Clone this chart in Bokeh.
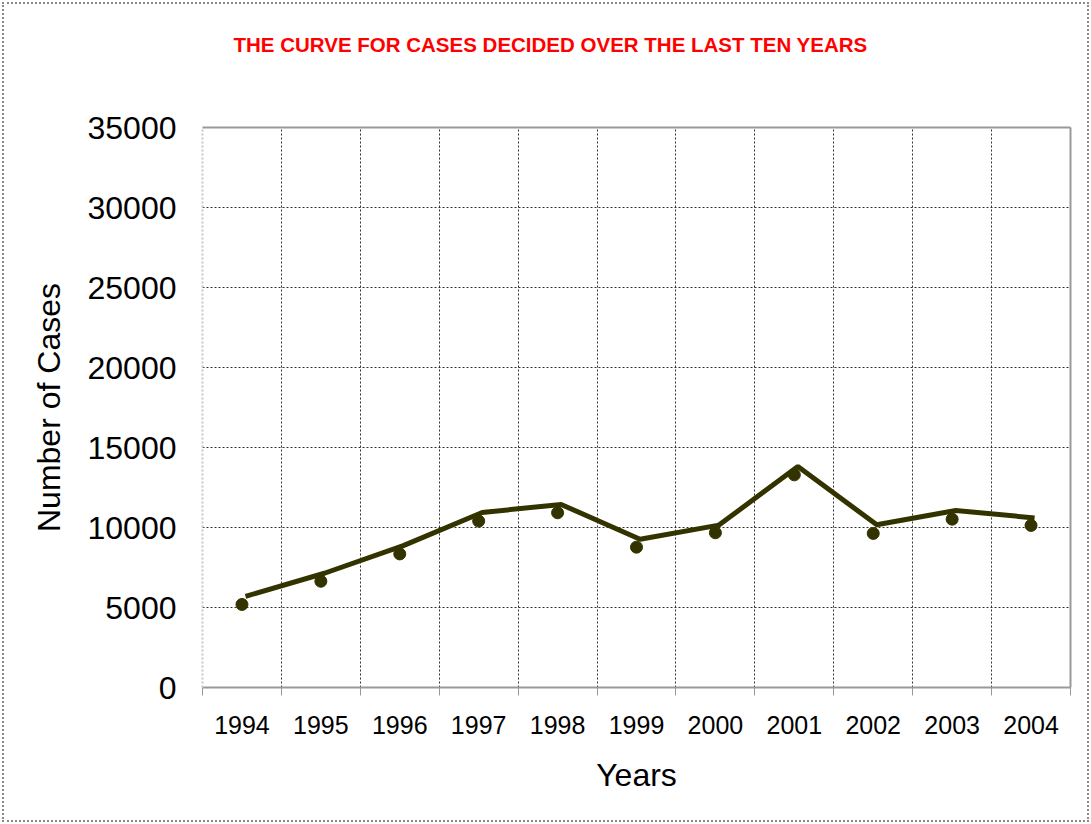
from bokeh.plotting import figure
from bokeh.models import ColumnDataSource, FixedTicker, Range1d, LinearAxis
from bokeh.transform import dodge
from bokeh.embed import file_html
from bokeh.resources import INLINE

# ---- data ----
years = [1994, 1995, 1996, 1997, 1998, 1999, 2000, 2001, 2002, 2003, 2004]
cases_line = [5700, 7140, 8870, 10940, 11440, 9270, 10150, 13810, 10170, 11060, 10600]
cases_points = [5190, 6640, 8350, 10400, 10920, 8770, 9670, 13290, 9630, 10520, 10130]
y_ticks = [0, 5000, 10000, 15000, 20000, 25000, 30000, 35000]

title_text = "THE CURVE FOR CASES DECIDED OVER THE LAST TEN YEARS"
x_title = "Years"
y_title = "Number of Cases"

FONT = "Liberation Sans"
INK = "#333300"
GRID = "#303030"
BORDER = "#999999"

source = ColumnDataSource(dict(year=years, line=cases_line, points=cases_points))

boundaries = [y - 0.5 for y in years] + [years[-1] + 0.5]
inner_boundaries = boundaries[1:-1]

p = figure(
    width=1091, height=824,
    output_backend="svg", toolbar_location=None,
    x_range=Range1d(years[0] - 0.5, years[-1] + 0.5),
    y_range=Range1d(y_ticks[0], y_ticks[-1]),
    min_border_left=202, min_border_right=21,
    min_border_top=127, min_border_bottom=137,
    background_fill_color="white", border_fill_color=None,
)
p.outline_line_color = None
p.styles = {"outline": "2px dotted #8a8a8a", "outline-offset": "-4px",
            "background-color": "white"}

# title
p.title.text = title_text
p.title.text_color = "#ff0000"
p.title.text_font = FONT
p.title.text_font_size = "20.5px"
p.title.text_font_style = "bold"
p.title.align = "left"
p.title.offset = 31

# x axis
xa = p.xaxis[0]
xa.ticker = FixedTicker(ticks=years, minor_ticks=boundaries)
xa.major_tick_line_color = None
xa.major_tick_out = 0
xa.minor_tick_line_color = BORDER
xa.minor_tick_line_width = 1
xa.minor_tick_in = 0
xa.minor_tick_out = 8
xa.axis_line_color = BORDER
xa.axis_line_width = 2
xa.major_label_text_font = FONT
xa.major_label_text_font_size = "25px"
xa.major_label_text_color = "black"
xa.major_label_standoff = 20
xa.axis_label = x_title
xa.axis_label_text_font = FONT
xa.axis_label_text_font_size = "32px"
xa.axis_label_text_font_style = "normal"
xa.axis_label_text_color = "black"
xa.axis_label_standoff = 20

# y axis
ya = p.yaxis[0]
ya.ticker = FixedTicker(ticks=y_ticks)
ya.major_tick_line_color = None
ya.minor_tick_line_color = None
ya.major_tick_out = 0
ya.axis_line_color = "#c8c8c8"
ya.axis_line_dash = "2 2"
ya.axis_line_width = 2
ya.major_label_text_font = FONT
ya.major_label_text_font_size = "32px"
ya.major_label_text_color = "black"
ya.major_label_standoff = 26
ya.axis_label = y_title
ya.axis_label_text_font = FONT
ya.axis_label_text_font_size = "32px"
ya.axis_label_text_font_style = "normal"
ya.axis_label_text_color = "black"
ya.axis_label_standoff = 18

# top frame border (its blank label leaves the gap under the title)
top = LinearAxis(
    ticker=FixedTicker(ticks=[]),
    axis_line_color=BORDER, axis_line_width=2,
    major_tick_line_color=None, minor_tick_line_color=None,
    major_tick_out=0, minor_tick_out=0, major_tick_in=0, minor_tick_in=0,
    major_label_text_font_size="0px", major_label_standoff=0,
    axis_label=" ", axis_label_text_font_size="30px", axis_label_standoff=31,
)
p.add_layout(top, "above")

# right frame border
right = LinearAxis(
    ticker=FixedTicker(ticks=[]),
    axis_line_color=BORDER, axis_line_width=2,
    major_tick_line_color=None, minor_tick_line_color=None,
    major_label_text_font_size="0px",
)
p.add_layout(right, "right")

# grids
p.xgrid.ticker = FixedTicker(ticks=inner_boundaries)
p.xgrid.grid_line_color = GRID
p.xgrid.grid_line_dash = "2 2"
p.xgrid.grid_line_width = 1
p.ygrid.ticker = FixedTicker(ticks=y_ticks[1:-1])
p.ygrid.grid_line_color = GRID
p.ygrid.grid_line_dash = "2 2"
p.ygrid.grid_line_width = 1

# series
p.line(x=dodge("year", 0.045), y="line", source=source,
       line_color=INK, line_width=5)
p.scatter(x="year", y="points", source=source, size=12,
          fill_color=INK, line_color=INK)

open("out.html", "w").write(file_html(p, INLINE))
